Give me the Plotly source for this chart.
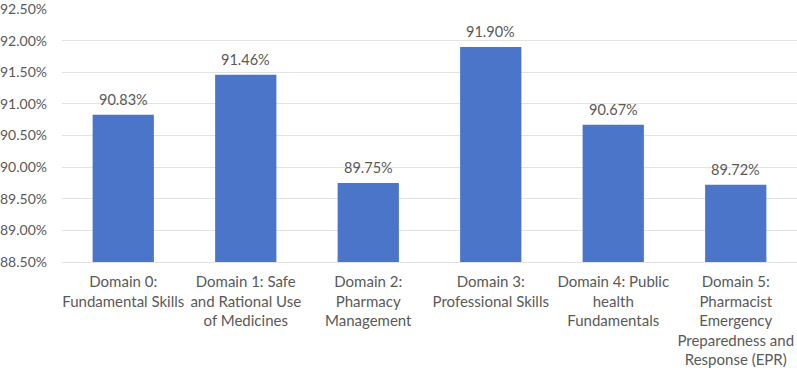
import plotly.graph_objects as go

categories = [
    "Domain 0:<br>Fundamental Skills",
    "Domain 1: Safe<br>and Rational Use<br>of Medicines",
    "Domain 2:<br>Pharmacy<br>Management",
    "Domain 3:<br>Professional Skills",
    "Domain 4: Public<br>health<br>Fundamentals",
    "Domain 5:<br>Pharmacist<br>Emergency<br>Preparedness and<br>Response (EPR)",
]
values = [90.83, 91.46, 89.75, 91.90, 90.67, 89.72]
labels = [f"{v:.2f}%" for v in values]
tick_vals = [88.5, 89.0, 89.5, 90.0, 90.5, 91.0, 91.5, 92.0, 92.5]
tick_text = [f"{t:.2f}%" for t in tick_vals]

font_color = "#595959"
font_family = "Lato, 'Open Sans', sans-serif"

fig = go.Figure(
    go.Bar(
        x=categories,
        y=values,
        base=0,
        marker=dict(color="#4a75c9", line=dict(width=0)),
        cliponaxis=False,
        hoverinfo="x+y",
    )
)

for c, v, t in zip(categories, values, labels):
    fig.add_annotation(
        x=c, y=v, text=t, showarrow=False,
        yanchor="bottom", yshift=5,
        font=dict(size=14.5, color=font_color, family=font_family),
    )

fig.update_layout(
    width=797,
    height=368,
    margin=dict(l=62, r=0, t=5, b=106),
    plot_bgcolor="white",
    paper_bgcolor="white",
    bargap=0.5,
    showlegend=False,
    font=dict(family=font_family, size=14, color=font_color),
)
fig.update_yaxes(
    range=[88.5, 92.501],
    tickvals=tick_vals,
    ticktext=tick_text,
    showgrid=True,
    gridcolor="#e3e3e3",
    gridwidth=1,
    zeroline=False,
    showline=False,
    ticks="",
    ticklabelstandoff=14,
    ticklabeloverflow="allow",
    tickfont=dict(size=14, color=font_color),
)
fig.update_xaxes(
    showline=True,
    linecolor="#e3e3e3",
    linewidth=1,
    ticks="",
    tickangle=0,
    ticklabelstandoff=6,
    tickfont=dict(size=15, color=font_color),
)

fig.write_html(
    "out.html",
    config={"displayModeBar": False},
    post_script="document.body.style.margin='0';",
)
